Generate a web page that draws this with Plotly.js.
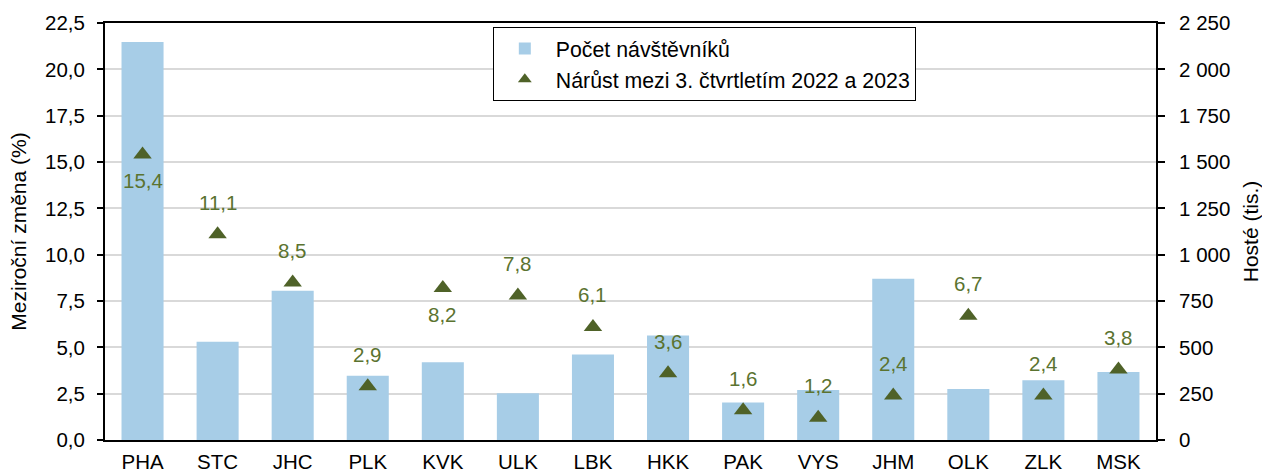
<!DOCTYPE html>
<html>
<head>
<meta charset="utf-8">
<script src="https://cdn.plot.ly/plotly-3.0.1.min.js"></script>
<style>html,body{margin:0;padding:0;background:#fff;}#chart{width:1262px;height:474px;}</style>
</head>
<body>
<div id="chart"></div>
<script>
// Data
const regions = ['PHA','STC','JHC','PLK','KVK','ULK','LBK','HKK','PAK','VYS','JHM','OLK','ZLK','MSK'];
const guests = [2147, 530, 805, 347, 419, 252, 462, 564, 203, 270, 870, 275, 322, 367];
const growth = [15.4, 11.1, 8.5, 2.9, 8.2, 7.8, 6.1, 3.6, 1.6, 1.2, 2.4, 6.7, 2.4, 3.8];
const growthLabels = ['15,4','11,1','8,5','2,9','8,2','7,8','6,1','3,6','1,6','1,2','2,4','6,7','2,4','3,8'];
const seriesNames = ['Počet návštěvníků', 'Nárůst mezi 3. čtvrtletím 2022 a 2023'];
// Label placement (style): 1 = above marker, -1 = below marker
const labelSide = [-1, 1, 1, 1, -1, 1, 1, 1, 1, 1, 1, 1, 1, 1];

const FONT = 'Liberation Sans, Arial, sans-serif';
const barColor = '#a7cde7';
const triColor = '#4f6228';
const labelColor = '#5b7330';

const traces = [
  {
    type: 'bar', x: regions, y: guests, name: seriesNames[0],
    yaxis: 'y', marker: {color: barColor}, legendgroup: 'a',
    hoverinfo: 'skip'
  },
  {
    type: 'scatter', mode: 'markers', x: regions, y: growth, name: seriesNames[1],
    yaxis: 'y2', legendgroup: 'b',
    marker: {symbol: 'triangle-up', size: 16, color: triColor},
    hoverinfo: 'skip'
  }
];

const annotations = regions.map((r, i) => ({
  x: r, y: growth[i], xref: 'x', yref: 'y2',
  text: growthLabels[i], showarrow: false,
  yshift: labelSide[i] > 0 ? 32 : -26,
  font: {family: FONT, size: 20.5, color: labelColor}
}));

const layout = {
  width: 1262, height: 474,
  margin: {l: 105, r: 106, t: 23, b: 34},
  paper_bgcolor: '#fff', plot_bgcolor: '#fff',
  font: {family: FONT, size: 20.5, color: '#000'},
  separators: ', ',
  bargap: 0.44,
  showlegend: true,
  legend: {
    x: 0.369, y: 0.99, xanchor: 'left', yanchor: 'top',
    bgcolor: '#fff', bordercolor: '#000', borderwidth: 1,
    font: {family: FONT, size: 21.3, color: '#000'},
    traceorder: 'grouped', tracegroupgap: 0, itemwidth: 52,
    itemsizing: 'constant'
  },
  xaxis: {
    type: 'category', range: [-0.5, regions.length - 0.5],
    showline: true, linecolor: '#000', linewidth: 2,
    mirror: true, ticks: '', showgrid: false, zeroline: false,
    tickfont: {family: FONT, size: 20.5, color: '#000'},
    ticklabelstandoff: 2, fixedrange: true
  },
  yaxis: {
    side: 'right', range: [0, 2250], dtick: 250, tick0: 0,
    tickformat: ',d', showline: true, linecolor: '#000', linewidth: 2,
    ticks: 'outside', ticklen: 7, tickwidth: 2, tickcolor: '#000',
    showgrid: true, gridcolor: '#d9d9d9', gridwidth: 2, zeroline: false,
    tickfont: {family: FONT, size: 20.5, color: '#000'},
    ticklabelstandoff: 10,
    title: {text: 'Hosté (tis.)', font: {family: FONT, size: 21, color: '#000'}, standoff: 15},
    fixedrange: true
  },
  yaxis2: {
    side: 'left', overlaying: 'y', range: [0, 22.5], dtick: 2.5, tick0: 0,
    tickformat: '.1f', showline: true, linecolor: '#000', linewidth: 2,
    ticks: 'outside', ticklen: 6, tickwidth: 2, tickcolor: '#000',
    showgrid: false, zeroline: false,
    tickfont: {family: FONT, size: 20.5, color: '#000'},
    ticklabelstandoff: 8,
    title: {text: 'Meziroční změna (%)', font: {family: FONT, size: 21, color: '#000'}, standoff: 13},
    fixedrange: true
  },
  annotations: annotations
};

Plotly.newPlot('chart', traces, layout, {displayModeBar: false, staticPlot: true});
</script>
</body>
</html>
